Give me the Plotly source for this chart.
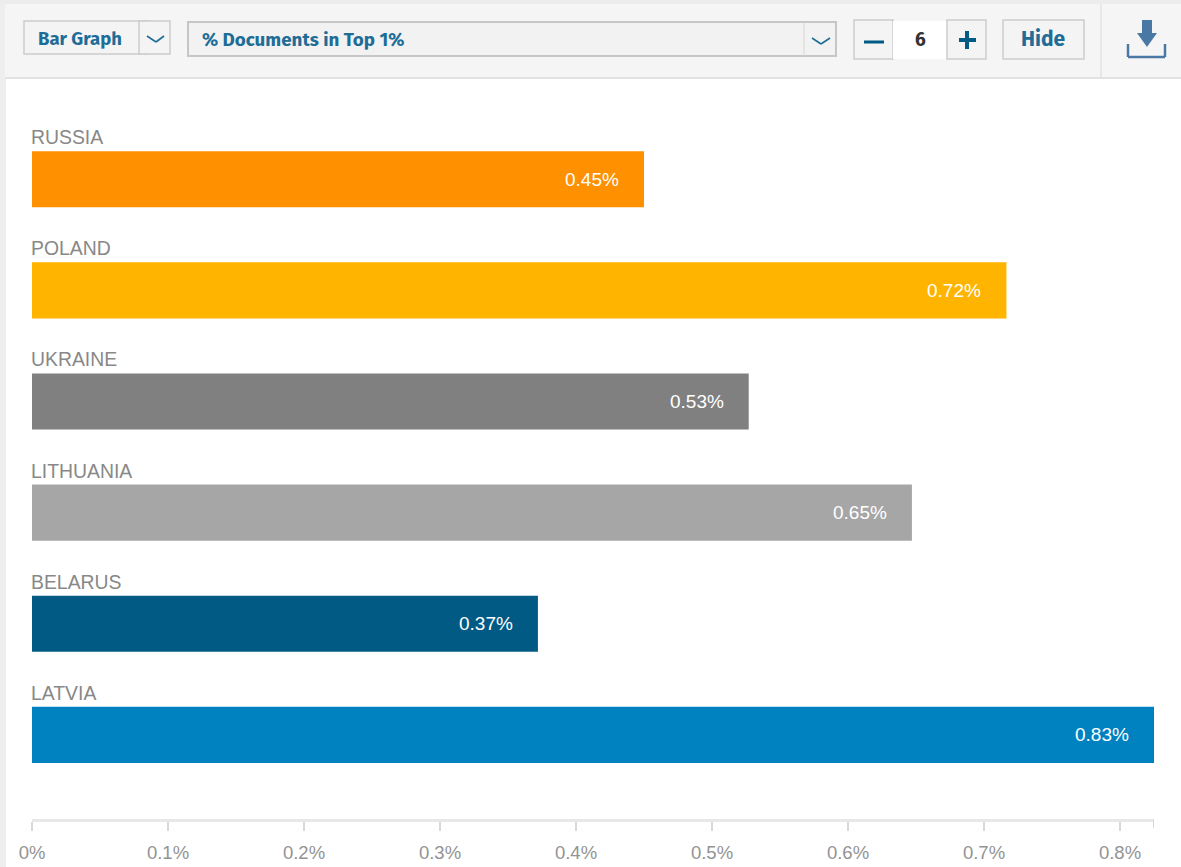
import plotly.graph_objects as go

countries = ["RUSSIA", "POLAND", "UKRAINE", "LITHUANIA", "BELARUS", "LATVIA"]
values = [0.45, 0.7165, 0.527, 0.647, 0.372, 0.825]
value_labels = ["0.45%", "0.72%", "0.53%", "0.65%", "0.37%", "0.83%"]
bar_colors = ["#ff9000", "#ffb400", "#808080", "#a6a6a6", "#005a84", "#0082c0"]
tick_values = [0, 0.1, 0.2, 0.3, 0.4, 0.5, 0.6, 0.7, 0.8]
tick_labels = ["0%", "0.1%", "0.2%", "0.3%", "0.4%", "0.5%", "0.6%", "0.7%", "0.8%"]

W, H = 1181, 867
L, R, T, B = 32, 27, 97, 48
UI = "Fira Sans, Lato, Noto Sans, sans-serif"
LABEL = "Liberation Sans, Arial, sans-serif"
BLUE = "#1f6c97"

def px(x):
    return (x - L) / (W - L - R)
def py(y):
    return 1 - (y - T) / (H - T - B)

shapes, annotations = [], []

def rect(x0, y0, x1, y1, fill, line=None, lw=1):
    shapes.append(dict(type="rect", xref="paper", yref="paper", layer="above",
                       x0=px(x0), x1=px(x1), y0=py(y0), y1=py(y1), fillcolor=fill,
                       line=dict(color=line or fill, width=lw if line else 0)))

def seg(x0, y0, x1, y1, color, lw=1):
    shapes.append(dict(type="line", xref="paper", yref="paper", layer="above",
                       x0=px(x0), x1=px(x1), y0=py(y0), y1=py(y1),
                       line=dict(color=color, width=lw)))

def label(x, y, text, size, color, anchor="left", font=UI):
    annotations.append(dict(xref="paper", yref="paper", x=px(x), y=py(y), text=text,
                            showarrow=False, xanchor=anchor, yanchor="middle",
                            font=dict(family=font, size=size, color=color)))

# page frame and toolbar
rect(0, 0, 6, H, "#eeeeee")
rect(0, 0, W, 4, "#ececec")
rect(5, 4, W, 78, "#f5f5f5")
seg(5, 78, W, 78, "#e2e2e2", 2)
seg(1101, 4, 1101, 78, "#e2e2e2", 1.5)

# chart-type dropdown
rect(24, 21, 149, 54, "#f4f4f4", "#cccccc", 1.5)
rect(139, 21, 170, 54, "#f4f4f4", "#cccccc", 1.5)
seg(147, 36, 156, 42, BLUE, 1.6)
seg(156, 42, 164, 36, BLUE, 1.6)
label(36, 39, "<b>Bar Graph</b>", 18.5, BLUE)

# metric dropdown
rect(188, 22, 836, 56, "#f2f2f2", "#c6c6c6", 2)
seg(804, 22, 804, 56, "#d6d6d6", 1)
seg(812, 38, 821, 44, BLUE, 1.6)
seg(821, 44, 830, 38, BLUE, 1.6)
label(200, 40, "<b>% Documents in Top 1%</b>", 18.8, BLUE)

# stepper
rect(854, 20, 893, 59, "#f4f4f4", "#cccccc", 1.5)
rect(893, 21, 947, 59, "#ffffff")
rect(947, 20, 986, 59, "#f4f4f4", "#cccccc", 1.5)
seg(864, 42, 884, 42, "#005a84", 3)
seg(959, 40, 976, 40, "#005a84", 4)
seg(967, 31, 967, 49, "#005a84", 4)
label(920, 40, "<b>6</b>", 19, "#333333", "center")

# hide button
rect(1003, 20, 1084, 59, "#f4f4f4", "#cccccc", 1.5)
label(1043, 39, "<b>Hide</b>", 21, BLUE, "center")

# download icon
ICON = "#4a78a4"
seg(1128, 44, 1128, 57, ICON, 2.5)
seg(1128, 57, 1165, 57, ICON, 2.5)
seg(1165, 44, 1165, 57, ICON, 2.5)
rect(1142, 20, 1152, 34, ICON)
shapes.append(dict(type="path", xref="paper", yref="paper", layer="above",
                   path=f"M {px(1137)} {py(33)} L {px(1157)} {py(33)} L {px(1147)} {py(47)} Z",
                   fillcolor=ICON, line=dict(width=0)))

# category names and value labels, anchored to the data
for c, v, t in zip(countries, values, value_labels):
    annotations.append(dict(x=0, y=c, xref="x", yref="y", text=c, showarrow=False,
                            xanchor="left", yanchor="middle", xshift=-3, yshift=42,
                            font=dict(family=LABEL, size=19.4, color="#888888")))
    annotations.append(dict(x=v, y=c, xref="x", yref="y", text=t, showarrow=False,
                            xanchor="right", yanchor="middle", xshift=-23,
                            font=dict(family=LABEL, size=19, color="#ffffff")))

# closing tick at the end of the axis
shapes.append(dict(type="line", xref="x", yref="paper", x0=0.825, x1=0.825,
                   y0=py(819), y1=py(828), line=dict(color="#d9d9d9", width=2)))

fig = go.Figure(go.Bar(x=values, y=countries, orientation="h",
                       marker=dict(color=bar_colors, line=dict(width=0)),
                       hoverinfo="skip"))

fig.update_layout(
    width=W, height=H, margin=dict(l=L, r=R, t=T, b=B, pad=0),
    paper_bgcolor="#ffffff", plot_bgcolor="#ffffff", showlegend=False,
    bargap=0.495, shapes=shapes, annotations=annotations,
    xaxis=dict(range=[0, 0.825], tickmode="array", tickvals=tick_values, ticktext=tick_labels,
               showgrid=False, zeroline=False, showline=True, linecolor="#e8e8e8", linewidth=3,
               ticks="outside", ticklen=9, tickwidth=2, tickcolor="#d9d9d9",
               tickfont=dict(family=LABEL, size=18.5, color="#939393"),
               ticklabelstandoff=6, automargin=False),
    yaxis=dict(type="category", categoryorder="array", categoryarray=countries,
               range=[5.757, -0.74], showticklabels=False, showgrid=False,
               zeroline=False, showline=False, ticks="", automargin=False),
)

fig.write_html("out.html", config=dict(displayModeBar=False),
               post_script="document.body.style.margin='0';document.documentElement.style.overflow='hidden';")
